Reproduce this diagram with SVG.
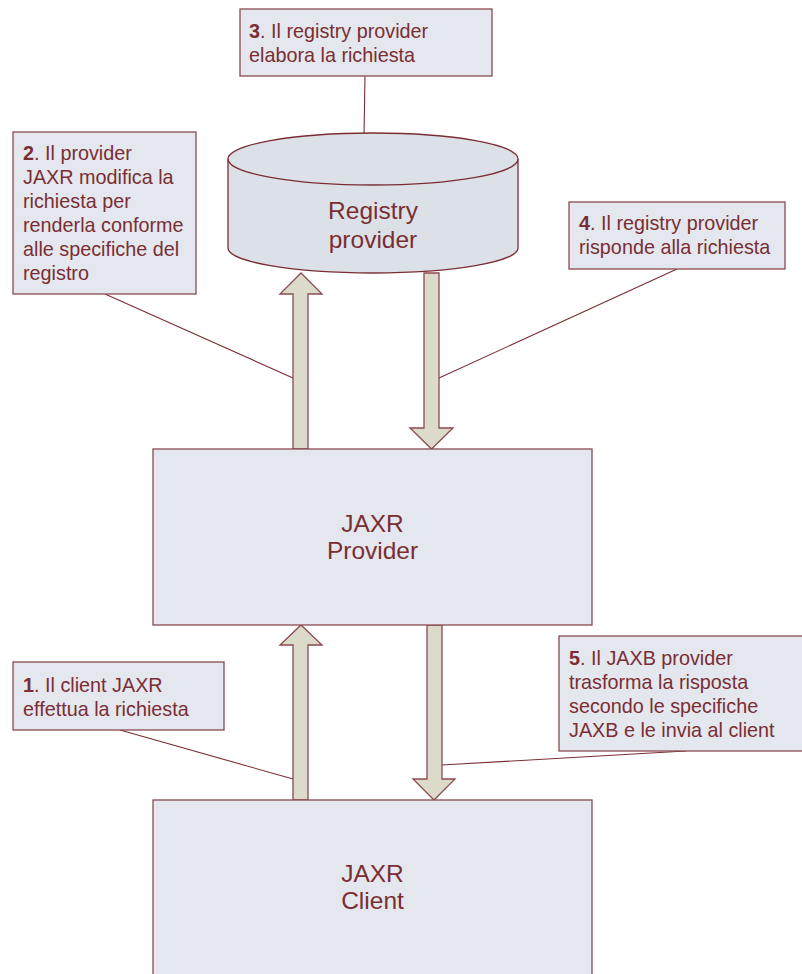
<svg xmlns="http://www.w3.org/2000/svg" width="802" height="974" viewBox="0 0 802 974">
<style>
.note{fill:#e4e7ed;stroke:#8c4a50;stroke-width:1.3}
.main{fill:#e4e7ed;stroke:#8c4a50;stroke-width:1.3}
.t{font-family:"Liberation Sans",Arial,sans-serif;font-size:19.8px;fill:#7a2e34}
.big{font-family:"Liberation Sans",Arial,sans-serif;font-size:24.5px;fill:#7a2e34;text-anchor:middle}
.arrow{fill:#dcdacb;stroke:#8c4a50;stroke-width:1.3;stroke-linejoin:miter}
.lead{stroke:#7a2e34;stroke-width:1.1;fill:none}
.b{font-weight:bold}
</style>
<rect width="802" height="974" fill="#ffffff"/>
<g id="connectors">
  <line class="lead" x1="365" y1="76" x2="364" y2="134"/>
  <line class="lead" x1="105" y1="294" x2="293" y2="378"/>
  <line class="lead" x1="677" y1="269" x2="439" y2="378"/>
  <line class="lead" x1="120" y1="730" x2="293" y2="779"/>
  <line class="lead" x1="686" y1="751" x2="442" y2="765"/>
  <polygon class="arrow" points="293,449 293,294 280,294 301,273 322,294 308,294 308,449"/>
  <polygon class="arrow" points="424,273 439,273 439,428 453,428 431.5,449 410,428 424,428"/>
  <polygon class="arrow" points="293,800 293,645 280,645 301,625 322,645 308,645 308,800"/>
  <polygon class="arrow" points="427,625 442,625 442,779 455,779 434,800 413,779 427,779"/>
</g>
<g id="registry-provider">
  <path d="M228,159 L228,248 A145,25 0 0 0 518,248 L518,159" fill="#dce1e8" stroke="#7a2e34" stroke-width="1.3"/>
  <ellipse cx="373" cy="159" rx="145" ry="26" fill="#dce1e8" stroke="#7a2e34" stroke-width="1.3"/>
  <text class="big" x="373" y="219">Registry</text>
  <text class="big" x="373" y="248">provider</text>
</g>
<g id="jaxr-provider">
  <rect class="main" x="153" y="449" width="439" height="176"/>
  <text class="big" x="372.5" y="532">JAXR</text>
  <text class="big" x="372.5" y="559">Provider</text>
</g>
<g id="jaxr-client">
  <rect class="main" x="153" y="800" width="439" height="185"/>
  <text class="big" x="372.5" y="882">JAXR</text>
  <text class="big" x="372.5" y="909">Client</text>
</g>
<g id="note3">
  <rect class="note" x="240" y="9" width="252" height="67"/>
  <text class="t" x="249" y="38"><tspan class="b">3</tspan>. Il registry provider</text>
  <text class="t" x="249" y="62">elabora la richiesta</text>
</g>
<g id="note2">
  <rect class="note" x="13" y="132" width="183" height="162"/>
  <text class="t" x="23" y="160"><tspan class="b">2</tspan>. Il provider</text>
  <text class="t" x="23" y="184">JAXR modifica la</text>
  <text class="t" x="23" y="208">richiesta per</text>
  <text class="t" x="23" y="232">renderla conforme</text>
  <text class="t" x="23" y="256">alle specifiche del</text>
  <text class="t" x="23" y="280">registro</text>
</g>
<g id="note4">
  <rect class="note" x="569" y="202" width="216" height="67"/>
  <text class="t" x="579" y="230"><tspan class="b">4</tspan>. Il registry provider</text>
  <text class="t" x="579" y="254">risponde alla richiesta</text>
</g>
<g id="note1">
  <rect class="note" x="13" y="662" width="211" height="68"/>
  <text class="t" x="23" y="692"><tspan class="b">1</tspan>. Il client JAXR</text>
  <text class="t" x="23" y="716">effettua la richiesta</text>
</g>
<g id="note5">
  <rect class="note" x="559" y="636" width="245" height="115"/>
  <text class="t" x="569" y="665"><tspan class="b">5</tspan>. Il JAXB provider</text>
  <text class="t" x="569" y="689">trasforma la risposta</text>
  <text class="t" x="569" y="713">secondo le specifiche</text>
  <text class="t" x="569" y="737">JAXB e le invia al client</text>
</g>
</svg>
